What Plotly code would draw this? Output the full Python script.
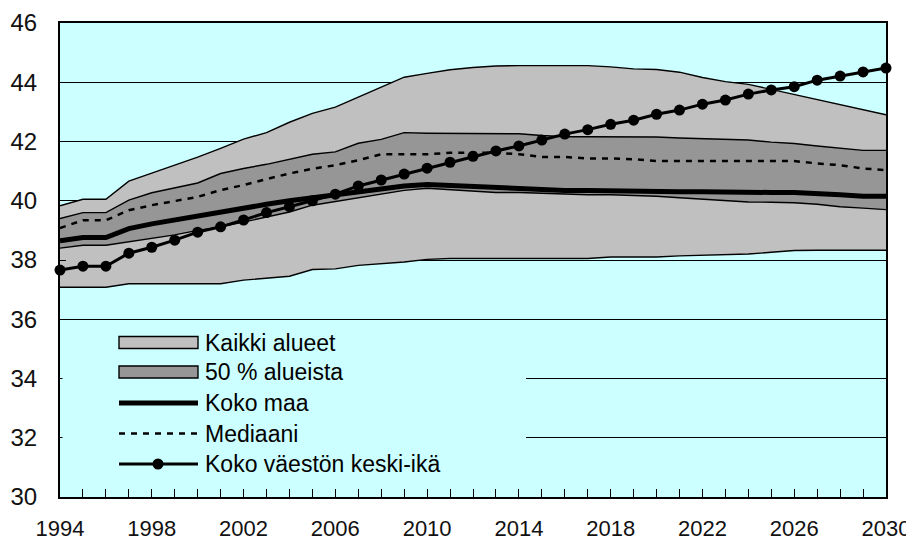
import plotly.graph_objects as go

years = list(range(1994, 2031))

kaikki_max = [39.83, 40.05, 40.05, 40.66, 40.93, 41.2, 41.47, 41.77, 42.08, 42.3,
              42.65, 42.95, 43.16, 43.5, 43.83, 44.17, 44.3, 44.42, 44.5, 44.55,
              44.56, 44.56, 44.56, 44.56, 44.52, 44.45, 44.43, 44.34, 44.16, 44.02,
              43.93, 43.76, 43.6, 43.42, 43.26, 43.08, 42.9]
kaikki_min = [37.08, 37.08, 37.08, 37.2, 37.2, 37.2, 37.2, 37.2, 37.32, 37.38,
              37.45, 37.68, 37.7, 37.82, 37.87, 37.93, 38.02, 38.05, 38.05, 38.05,
              38.05, 38.05, 38.05, 38.05, 38.1, 38.1, 38.1, 38.14, 38.16, 38.2,
              38.2, 38.26, 38.32, 38.33, 38.33, 38.33, 38.33]
p50_ylä = [39.4, 39.6, 39.6, 40.02, 40.27, 40.44, 40.6, 40.92, 41.09, 41.23,
           41.4, 41.57, 41.65, 41.94, 42.07, 42.3, 42.28, 42.28, 42.28, 42.28,
           42.26, 42.2, 42.16, 42.16, 42.16, 42.16, 42.15, 42.12, 42.1, 42.07,
           42.05, 41.98, 41.93, 41.85, 41.77, 41.7, 41.7]
p50_ala = [38.4, 38.5, 38.5, 38.62, 38.72, 38.85, 39.0, 39.12, 39.28, 39.45,
           39.62, 39.85, 39.98, 40.1, 40.22, 40.35, 40.42, 40.38, 40.32, 40.28,
           40.28, 40.25, 40.22, 40.2, 40.2, 40.18, 40.15, 40.1, 40.06, 40.0,
           39.96, 39.95, 39.93, 39.88, 39.8, 39.75, 39.7]
koko_maa = [38.65, 38.76, 38.76, 39.06, 39.22, 39.36, 39.5, 39.63, 39.74, 39.88,
            40.0, 40.1, 40.2, 40.3, 40.42, 40.5, 40.55, 40.52, 40.47, 40.42,
            40.4, 40.37, 40.35, 40.35, 40.33, 40.33, 40.33, 40.3, 40.3, 40.28,
            40.28, 40.28, 40.28, 40.22, 40.2, 40.15, 40.15]
mediaani = [39.08, 39.34, 39.34, 39.68, 39.85, 40.0, 40.13, 40.36, 40.53, 40.73,
            40.92, 41.08, 41.2, 41.37, 41.57, 41.57, 41.57, 41.62, 41.62, 41.62,
            41.57, 41.48, 41.48, 41.43, 41.43, 41.4, 41.34, 41.34, 41.34, 41.34,
            41.34, 41.34, 41.34, 41.26, 41.2, 41.09, 41.03]
keski_ika = [37.66, 37.79, 37.79, 38.23, 38.43, 38.67, 38.94, 39.12, 39.35, 39.6,
             39.8, 40.0, 40.22, 40.5, 40.7, 40.9, 41.1, 41.3, 41.5, 41.68,
             41.85, 42.05, 42.25, 42.4, 42.58, 42.72, 42.92, 43.06, 43.26, 43.4,
             43.6, 43.74, 43.85, 44.07, 44.21, 44.35, 44.48]

x_ticks = list(range(1994, 2031, 4))
legend_names = ["Kaikki alueet", "50 % alueista", "Koko maa", "Mediaani",
                "Koko väestön keski-ikä"]

LIGHT = "#C0C0C0"
DARK = "#969696"
BG = "#CCFFFF"
FONT = "Liberation Sans, Arial, sans-serif"

fig = go.Figure()
edge = dict(color="black", width=1.4)
fig.add_trace(go.Scatter(x=years, y=kaikki_min, mode="lines", line=edge,
                         showlegend=False, hoverinfo="skip"))
fig.add_trace(go.Scatter(x=years, y=kaikki_max, mode="lines", line=edge,
                         fill="tonexty", fillcolor=LIGHT, name=legend_names[0]))
fig.add_trace(go.Scatter(x=years, y=p50_ala, mode="lines", line=edge,
                         showlegend=False, hoverinfo="skip"))
fig.add_trace(go.Scatter(x=years, y=p50_ylä, mode="lines", line=edge,
                         fill="tonexty", fillcolor=DARK, name=legend_names[1]))
fig.add_trace(go.Scatter(x=years, y=koko_maa, mode="lines",
                         line=dict(color="black", width=5), name=legend_names[2]))
fig.add_trace(go.Scatter(x=years, y=mediaani, mode="lines",
                         line=dict(color="black", width=2.5, dash="6px,6px"),
                         name=legend_names[3]))
fig.add_trace(go.Scatter(x=years, y=keski_ika, mode="lines+markers",
                         line=dict(color="black", width=3),
                         marker=dict(color="black", size=11),
                         cliponaxis=False, name=legend_names[4]))

# The page body adds an 8 px offset; the figure is sized so that the plot area
# lands at x 60..886, y 23..497 of the window.
OFF = 8
L, T, W, H = 60, 23, 826, 474


def px(xp):
    return (xp - L) / W


def py(yp):
    return (T + H - yp) / H


shapes = []
# background box hiding gridlines behind the legend
shapes.append(dict(type="rect", xref="paper", yref="paper", layer="above",
                   x0=px(62.5), x1=px(526), y0=py(486), y1=py(326),
                   fillcolor=BG, line=dict(width=0)))
sx0, sx1 = 119, 198
rows = [342.5, 372, 403, 433.5, 464]
shapes.append(dict(type="rect", xref="paper", yref="paper", layer="above",
                   x0=px(sx0), x1=px(sx1), y0=py(rows[0] + 6), y1=py(rows[0] - 6),
                   fillcolor=LIGHT, line=dict(color="black", width=1.4)))
shapes.append(dict(type="rect", xref="paper", yref="paper", layer="above",
                   x0=px(sx0), x1=px(sx1), y0=py(rows[1] + 6), y1=py(rows[1] - 6),
                   fillcolor=DARK, line=dict(color="black", width=1.4)))
shapes.append(dict(type="line", xref="paper", yref="paper", layer="above",
                   x0=px(sx0), x1=px(sx1), y0=py(rows[2]), y1=py(rows[2]),
                   line=dict(color="black", width=5)))
shapes.append(dict(type="line", xref="paper", yref="paper", layer="above",
                   x0=px(sx0), x1=px(sx1), y0=py(rows[3]), y1=py(rows[3]),
                   line=dict(color="black", width=2.5, dash="6px,6px")))
shapes.append(dict(type="line", xref="paper", yref="paper", layer="above",
                   x0=px(sx0), x1=px(sx1), y0=py(rows[4]), y1=py(rows[4]),
                   line=dict(color="black", width=3)))
cx, r = 158, 5.5
shapes.append(dict(type="circle", xref="paper", yref="paper", layer="above",
                   x0=px(cx - r), x1=px(cx + r), y0=py(rows[4] + r), y1=py(rows[4] - r),
                   fillcolor="black", line=dict(color="black", width=0)))

annotations = []
for name, row in zip(legend_names, rows):
    annotations.append(dict(text=name, xref="paper", yref="paper",
                            x=px(203), y=py(row), xanchor="left", yanchor="middle",
                            showarrow=False, font=dict(size=23, color="black", family=FONT)))

fig.update_layout(
    width=914 - OFF, height=542 - OFF,
    margin=dict(l=L - OFF, r=914 - (L + W), t=T - OFF, b=542 - (T + H)),
    paper_bgcolor="white", plot_bgcolor=BG,
    showlegend=False,
    font=dict(family=FONT, size=23, color="black"),
    shapes=shapes, annotations=annotations,
    xaxis=dict(range=[1994, 2030], tickmode="array", tickvals=x_ticks,
               automargin=False,
               tickfont=dict(family=FONT, size=22, color="#111111"),
               ticks="inside", ticklen=8, tickwidth=1.3, tickcolor="black",
               showgrid=False, zeroline=False, showline=True, linecolor="black",
               linewidth=2, mirror=True, ticklabelstandoff=11,
               minor=dict(dtick=1, tick0=1994, ticks="inside", ticklen=8,
                          tickwidth=1.3, tickcolor="black", showgrid=False)),
    yaxis=dict(range=[30, 46], dtick=2, tick0=30, ticks="inside", ticklen=6,
               automargin=False,
               tickfont=dict(family=FONT, size=24, color="#111111"),
               tickwidth=1.3, tickcolor="black", showgrid=True, gridcolor="black",
               gridwidth=1, zeroline=False, showline=True, linecolor="black",
               linewidth=2, mirror=True, ticklabelstandoff=16),
)

fig.write_html("out.html")
